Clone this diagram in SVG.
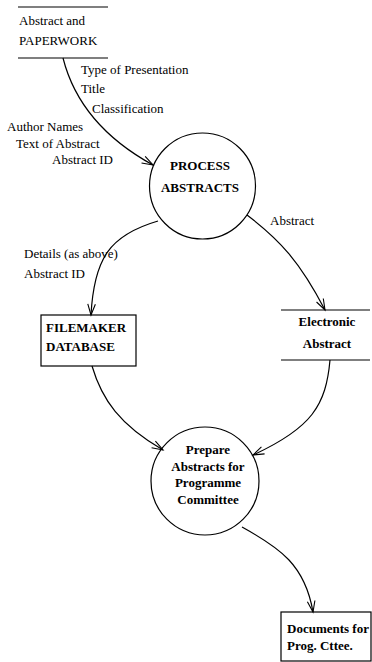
<svg xmlns="http://www.w3.org/2000/svg" width="372" height="662" viewBox="0 0 372 662">
<style>
.ln{stroke:#000;stroke-width:1.2;fill:none}
.t{font-family:"Liberation Serif","Times New Roman",serif;font-size:13px;fill:#000}
.b{font-family:"Liberation Serif","Times New Roman",serif;font-size:13px;font-weight:bold;fill:#000}
.c{text-anchor:middle}
</style>
<defs>
<marker id="arr" markerUnits="userSpaceOnUse" markerWidth="14" markerHeight="10" viewBox="-12 -5 14 10" refX="0" refY="0" orient="auto">
<path d="M-11,-3.8 L0,0 L-11,3.8" fill="none" stroke="#000" stroke-width="1.1"/>
</marker>
</defs>
<rect width="372" height="662" fill="#fff"/>
<g id="paperwork">
<line class="ln" x1="18" y1="7" x2="108" y2="7"/>
<line class="ln" x1="18" y1="58" x2="108" y2="58"/>
<text class="t" x="19" y="25">Abstract and</text>
<text class="t" x="19" y="45">PAPERWORK</text>
</g>
<g id="process">
<circle class="ln" cx="202.5" cy="186" r="53"/>
<text class="b c" x="200" y="170">PROCESS</text>
<text class="b c" x="200" y="192">ABSTRACTS</text>
</g>
<g id="filemaker">
<rect class="ln" x="41" y="315" width="95" height="51"/>
<text class="b" x="46" y="332">FILEMAKER</text>
<text class="b" x="46" y="351">DATABASE</text>
</g>
<g id="electronic">
<line class="ln" x1="281" y1="310" x2="370" y2="310"/>
<line class="ln" x1="281" y1="360" x2="370" y2="360"/>
<text class="b c" x="327" y="326">Electronic</text>
<text class="b c" x="327" y="348">Abstract</text>
</g>
<g id="prepare">
<circle class="ln" cx="205" cy="481" r="54"/>
<text class="b c" x="208" y="454">Prepare</text>
<text class="b c" x="208" y="471">Abstracts for</text>
<text class="b c" x="208" y="487">Programme</text>
<text class="b c" x="208" y="504">Committee</text>
</g>
<g id="documents">
<rect class="ln" x="281" y="612" width="90" height="49"/>
<text class="b" x="287" y="633">Documents for</text>
<text class="b" x="287" y="650">Prog. Cttee.</text>
</g>
<g id="connectors">
<path class="ln" d="M63,58 Q80,125 153,165" marker-end="url(#arr)"/>
<path class="ln" d="M158,221 C110,235 94,258 91,315" marker-end="url(#arr)"/>
<path class="ln" d="M247,215 C280,240 300,262 325,310" marker-end="url(#arr)"/>
<path class="ln" d="M92,366 C102,400 120,425 163,450" marker-end="url(#arr)"/>
<path class="ln" d="M330,360 C326,405 312,428 253,455" marker-end="url(#arr)"/>
<path class="ln" d="M242,527 C280,548 305,565 313,612" marker-end="url(#arr)"/>
<text class="t" x="81" y="74">Type of Presentation</text>
<text class="t" x="81" y="93">Title</text>
<text class="t" x="92" y="113">Classification</text>
<text class="t" x="7" y="131">Author Names</text>
<text class="t" x="16" y="148">Text of Abstract</text>
<text class="t" x="52" y="164">Abstract ID</text>
<text class="t" x="270" y="225">Abstract</text>
<text class="t" x="24" y="258">Details (as above)</text>
<text class="t" x="24" y="278">Abstract ID</text>
</g>
</svg>
